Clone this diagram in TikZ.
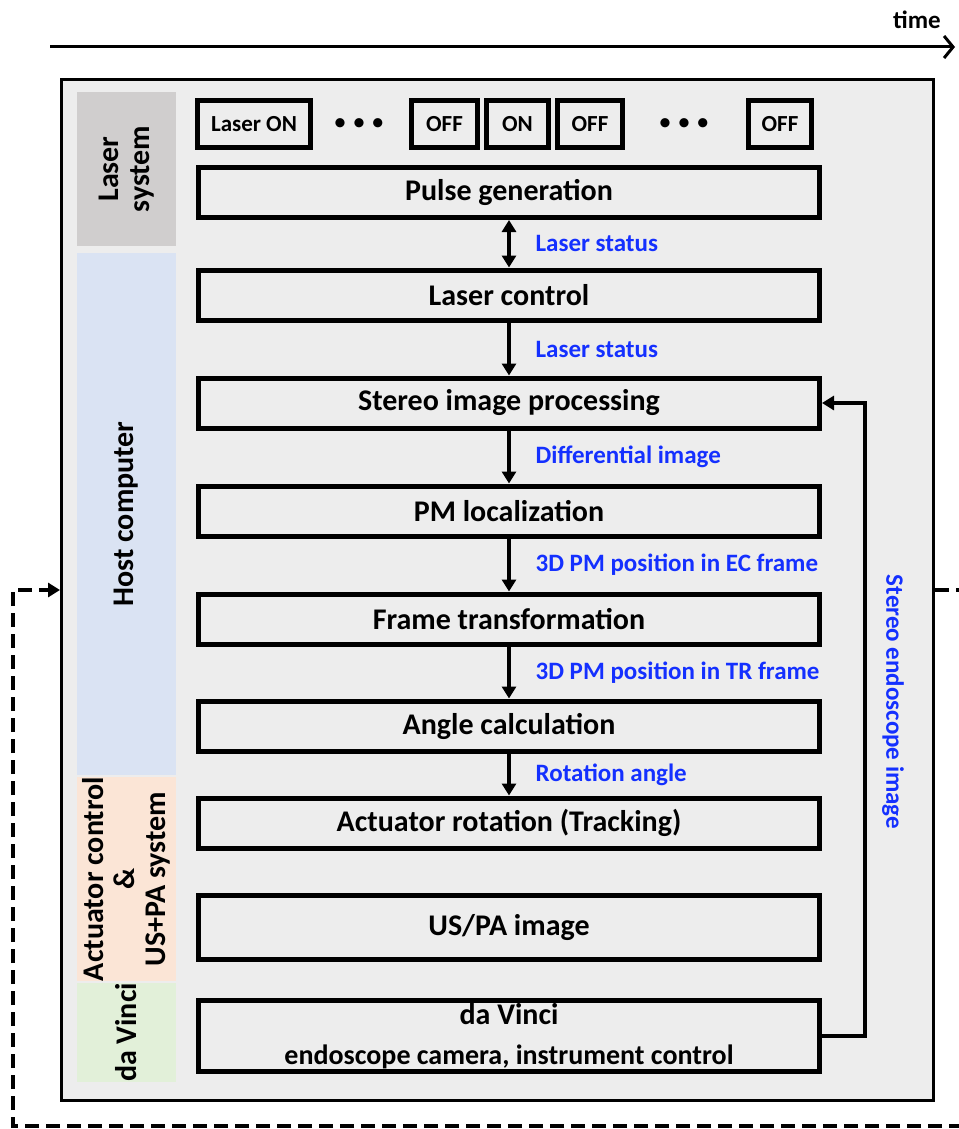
\documentclass[tikz,border=0pt]{standalone}
\usepackage{fontspec}
\setmainfont{Carlito}
\usetikzlibrary{arrows.meta,positioning}
\definecolor{framebg}{HTML}{EDEDED}
\definecolor{laserbg}{HTML}{D0CECE}
\definecolor{hostbg}{HTML}{DAE3F3}
\definecolor{actbg}{HTML}{FBE5D6}
\definecolor{dvbg}{HTML}{E2F0D9}
\definecolor{sigblue}{HTML}{1430FF}

\begin{document}
\begin{tikzpicture}[x=0.5pt,y=-0.5pt,
  font=\bfseries,
  stage/.style={draw,line width=2.5pt,fill=framebg,align=center,
    minimum width=310.5pt,minimum height=25pt,inner sep=0pt,
    font=\fontsize{15}{17}\selectfont\bfseries},
  pulse/.style={draw,line width=2.5pt,fill=framebg,minimum height=23.5pt,
    inner sep=0pt,font=\fontsize{11.5}{14}\selectfont\bfseries},
  band/.style={rotate=90,align=center,inner sep=0pt,minimum height=49.5pt,
    font=\fontsize{15}{15.5}\selectfont\bfseries},
  sig/.style={sigblue,font=\fontsize{12.5}{15}\selectfont\bfseries},
  dots/.style={font=\fontsize{13}{15}\selectfont},
  ar/.style={-{Triangle[length=6pt,width=7pt]},line width=2pt},
  loop/.style={-{Triangle[length=6pt,width=7pt]},line width=2pt,
    dash pattern=on 7pt off 3.5pt}
]
\useasboundingbox (0,0) rectangle (958,1129);

% ==================== TIME AXIS ====================
\coordinate (time_start) at (50,47);
\coordinate (time_end) at (955,47);
\draw[-{Straight Barb[length=4.5pt,width=11pt]},line width=1.5pt] (time_start) -- (time_end);
\node[font=\fontsize{12.5}{15}\selectfont\bfseries] (time_label) at (917,20) {time};

% ==================== FRAME & BANDS ====================
\node[draw,line width=1.5pt,fill=framebg,minimum width=436pt,minimum height=510.5pt,
      inner sep=0pt] (frame) at (497.5,590) {};

\node[band,fill=laserbg,minimum width=77pt] (band_laser) at (126.5,169) {Laser\\system};
\node[band,fill=hostbg,minimum width=261pt] (band_host) at (126.5,514) {Host computer};
\node[band,fill=actbg,minimum width=96pt] (band_act) at (126.5,879) {Actuator control\\\&\\US+PA system};
\node[band,fill=dvbg,minimum width=49.5pt] (band_dv) at (126.5,1032.5) {da Vinci};

% ==================== LASER PULSES ====================
\node[pulse,minimum width=56.5pt] (laser_on) at (254,124) {Laser ON};
\node[dots] (dots_a) at (359,125) {\textbullet\hspace{3pt}\textbullet\hspace{3pt}\textbullet};
\node[pulse,minimum width=33pt] (off_a) at (444.5,124) {OFF};
\node[pulse,minimum width=31pt] (on_a) at (517.5,124) {ON};
\node[pulse,minimum width=32.5pt] (off_b) at (590,124) {OFF};
\node[dots] (dots_b) at (684,125) {\textbullet\hspace{3pt}\textbullet\hspace{3pt}\textbullet};
\node[pulse,minimum width=31.5pt] (off_c) at (780,124) {OFF};

% ==================== PIPELINE ====================
\node[stage] (pulse_gen) at (509,192.5) {Pulse generation};
\node[stage] (laser_ctrl) at (509,295) {Laser control};
\node[stage] (stereo_proc) at (509,403) {Stereo image processing};
\node[stage] (pm_loc) at (509,511) {PM localization};
\node[stage] (frame_tf) at (509,619) {Frame transformation};
\node[stage] (angle_calc) at (509,726) {Angle calculation};
\node[stage] (act_rot) at (509,823) {Actuator rotation (Tracking)};
\node[stage,minimum height=32pt] (uspa_img) at (509,927.5) {US/PA image};
\node[stage,minimum height=35.5pt] (davinci) at (509,1036)
  {da Vinci\\[3pt]{\fontsize{14}{16}\selectfont endoscope camera, instrument control}};

\draw[ar,{Triangle[length=6pt,width=7pt]}-{Triangle[length=6pt,width=7pt]}]
  (pulse_gen) -- node[sig,right=9pt] {Laser status} (laser_ctrl);
\draw[ar] (laser_ctrl) -- node[sig,right=9pt] {Laser status} (stereo_proc);
\draw[ar] (stereo_proc) -- node[sig,right=9pt] {Differential image} (pm_loc);
\draw[ar] (pm_loc) -- node[sig,right=9pt] {3D PM position in EC frame} (frame_tf);
\draw[ar] (frame_tf) -- node[sig,right=9pt] {3D PM position in TR frame} (angle_calc);
\draw[ar] (angle_calc) -- node[sig,right=9pt] {Rotation angle} (act_rot);

% feedback from the endoscope
\coordinate (fb_x) at (865,700);
\draw[ar] (davinci.east) -| (fb_x) |- (stereo_proc.east);
\node[sig,rotate=-90] (fb_label) at (893,702) {Stereo endoscope image};

% ==================== OUTER LOOP ====================
\coordinate (loop_br) at (975,1126);
\coordinate (loop_bl) at (13,1126);
\draw[loop] (frame.east) -| (loop_br) -- (loop_bl) |- (frame.west);

\end{tikzpicture}
\end{document}
